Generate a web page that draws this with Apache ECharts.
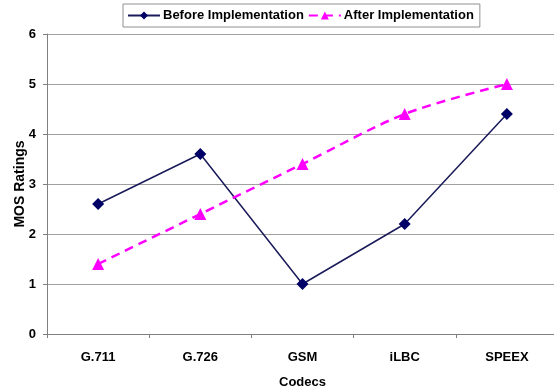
<!DOCTYPE html>
<html>
<head>
<meta charset="utf-8">
<script src="https://cdn.jsdelivr.net/npm/echarts@6/dist/echarts.min.js"></script>
<style>
  html, body { margin: 0; padding: 0; background: #fff; }
  #chart { width: 554px; height: 390px; }
</style>
</head>
<body>
<div id="chart"></div>
<script>
// MOS ratings per codec, before and after implementation
const codecs = ['G.711', 'G.726', 'GSM', 'iLBC', 'SPEEX'];
const beforeValues = [2.6, 3.6, 1.0, 2.2, 4.4];
const afterValues = [1.4, 2.4, 3.4, 4.4, 5.0];
const yTicks = [0, 1, 2, 3, 4, 5, 6];

const font = 'Liberation Sans, Arial, sans-serif';
const chart = echarts.init(document.getElementById('chart'), null, { renderer: 'canvas' });

chart.setOption({
  animation: false,
  backgroundColor: '#ffffff',
  textStyle: { fontFamily: font },
  grid: { left: 47, right: -4, top: 34, bottom: 56, containLabel: false, outerBoundsMode: 'none' },
  legend: {
    top: 4,
    left: 123,
    padding: [5, 6, 5, 4],
    itemGap: 4,
    itemWidth: 32,
    itemHeight: 10,
    borderColor: '#909090',
    borderWidth: 1,
    textStyle: { fontFamily: font, fontWeight: 'bold', fontSize: 13, color: '#000', padding: [0, 0, 0, -2] },
    data: [
      { name: 'Before Implementation' },
      { name: 'After Implementation' }
    ]
  },
  xAxis: {
    type: 'category',
    data: codecs,
    boundaryGap: true,
    name: 'Codecs',
    nameLocation: 'middle',
    nameGap: 42,
    nameMoveOverlap: false,
    nameTextStyle: { fontFamily: font, fontWeight: 'bold', fontSize: 13, color: '#000' },
    axisLine: { lineStyle: { color: '#808080', width: 1 } },
    axisTick: { show: true, length: 4, lineStyle: { color: '#808080' } },
    axisLabel: { fontFamily: font, fontWeight: 'bold', fontSize: 13, color: '#000', margin: 17 }
  },
  yAxis: {
    type: 'value',
    min: yTicks[0],
    max: yTicks[yTicks.length - 1],
    interval: 1,
    name: 'MOS Ratings',
    nameLocation: 'middle',
    nameGap: 20,
    nameMoveOverlap: false,
    nameRotate: 90,
    nameTextStyle: { fontFamily: font, fontWeight: 'bold', fontSize: 14, color: '#000' },
    axisLine: { show: true, lineStyle: { color: '#808080', width: 1 } },
    axisTick: { show: true, length: 4, lineStyle: { color: '#808080' } },
    axisLabel: { fontFamily: font, fontWeight: 'bold', fontSize: 13, color: '#000', margin: 11 },
    splitLine: { show: true, lineStyle: { color: '#a0a0a0', width: 1 } }
  },
  series: [
    {
      name: 'Before Implementation',
      type: 'line',
      data: beforeValues,
      symbol: 'diamond',
      symbolSize: 12,
      itemStyle: { color: '#000066' },
      lineStyle: { color: '#1a1a5a', width: 1.5 }
    },
    {
      name: 'After Implementation',
      type: 'line',
      data: afterValues,
      smooth: 0.3,
      symbol: 'triangle',
      symbolSize: 12,
      itemStyle: { color: '#ff00ff' },
      lineStyle: { color: '#ff00ff', width: 2.5, type: [9, 6] }
    }
  ]
});
</script>
</body>
</html>
